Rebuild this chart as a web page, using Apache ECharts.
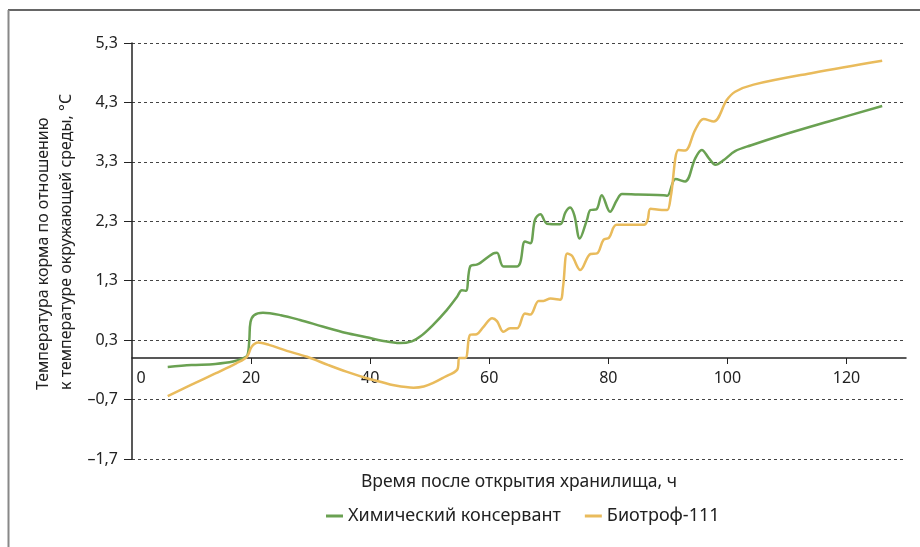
<!DOCTYPE html>
<html>
<head>
<meta charset="utf-8">
<script src="https://cdn.jsdelivr.net/npm/echarts@6/dist/echarts.min.js"></script>
<style>
  html, body { margin: 0; padding: 0; background: #fff; }
  #chart { width: 920px; height: 547px; }
</style>
</head>
<body>
<div id="chart"></div>
<script>
const xLabels = [0, 20, 40, 60, 80, 100, 120]
const yTicks = [-1.7, -0.7, 0.3, 1.3, 2.3, 3.3, 4.3, 5.3]
const seriesNames = ['Химический консервант', 'Биотроф-111']

// [часы, °C]
const chemical = [
  [6, -0.15], [10, -0.12], [14, -0.1], [17, -0.06], [18.8, 0], [19.4, 0.05], [19.7, 0.3],
  [19.9, 0.6], [20.5, 0.72], [22, 0.76], [25, 0.72], [28.2, 0.64], [32, 0.53], [36, 0.42],
  [39.4, 0.35], [42, 0.29], [45, 0.25], [47, 0.28], [48.4, 0.36], [50.5, 0.55], [52.9, 0.81],
  [54.6, 1.03], [55.4, 1.14], [56.1, 1.13], [56.8, 1.54], [57.9, 1.57], [58.5, 1.6],
  [60.7, 1.76], [61.3, 1.77], [62.4, 1.54], [64.6, 1.54], [65.2, 1.6], [66, 1.96],
  [66.9, 1.93], [67.7, 2.33], [68.6, 2.42], [69.7, 2.26], [71.9, 2.25], [72.8, 2.45],
  [73.6, 2.53], [74.3, 2.4], [75.2, 2.01], [76.4, 2.32], [77, 2.49], [78, 2.5], [78.9, 2.74],
  [80.3, 2.46], [81.4, 2.65], [82.3, 2.76], [85, 2.75], [89.3, 2.74], [89.9, 2.73],
  [91.3, 3.01], [92.9, 2.97], [94.6, 3.36], [95.7, 3.5], [96.9, 3.36], [98, 3.25],
  [99.4, 3.33], [101.3, 3.48], [104, 3.58], [108.9, 3.74], [117, 3.98], [126, 4.24]
]
const biotrof = [
  [6, -0.64], [10, -0.45], [14, -0.26], [17.5, -0.09], [19.3, 0.02], [20.1, 0.19],
  [21.2, 0.26], [23, 0.22], [26, 0.12], [29.4, 0.02], [33, -0.12], [36, -0.23], [39.4, -0.34],
  [41.7, -0.4], [44, -0.46], [47.3, -0.5], [49, -0.48], [50.6, -0.42], [52.5, -0.32],
  [54.6, -0.2], [55, 0], [56, 0], [56.8, 0.39], [57.9, 0.4], [59, 0.52], [60.5, 0.67],
  [61.3, 0.62], [62.4, 0.44], [63.5, 0.5], [64.7, 0.5], [66, 0.75], [66.9, 0.73], [68.3, 0.96],
  [69.1, 0.96], [70.3, 1.0], [71.9, 0.98], [72.4, 1.2], [73.1, 1.76], [73.9, 1.72],
  [75.3, 1.48], [77, 1.75], [78.1, 1.76], [79.2, 1.99], [80.1, 2.02], [81.4, 2.24], [86, 2.24],
  [86.6, 2.32], [87.1, 2.51], [89, 2.49], [89.9, 2.49], [90.5, 2.72], [91.8, 3.5], [92.9, 3.49],
  [94.6, 3.84], [96, 4.02], [97.7, 3.98], [99.9, 4.34], [101.3, 4.48], [104.4, 4.6],
  [114.5, 4.8], [126, 5.0]
]

const font = '"Noto Sans", sans-serif'
const textColor = '#222'

const chart = echarts.init(document.getElementById('chart'))

// ось X стоит на нуле: grid 416px на 7 градусов, ноль на 1.7 выше низа
const xAxisOffset = -Math.round(416 * 1.7 / 7)

chart.setOption({
  animation: false,
  textStyle: { fontFamily: font },
  grid: { left: 132, right: 14, top: 43, bottom: 88 },
  legend: {
    data: seriesNames,
    left: 321,
    top: 502,
    icon: 'rect',
    itemWidth: 17,
    itemHeight: 3,
    itemGap: 24,
    textStyle: { fontSize: 18, color: textColor, fontFamily: font }
  },
  graphic: [
    { type: 'line', shape: { x1: 8, y1: 10, x2: 920, y2: 10 }, style: { stroke: '#333', lineWidth: 1.5 } },
    { type: 'line', shape: { x1: 8.5, y1: 10, x2: 8.5, y2: 547 }, style: { stroke: '#888', lineWidth: 2 } },
    {
      type: 'text', x: 519, y: 482,
      style: { text: 'Время после открытия хранилища, ч', fill: textColor, font: '17.5px ' + font, textAlign: 'center', textVerticalAlign: 'middle' }
    },
    {
      type: 'text', x: 43, y: 390, rotation: Math.PI / 2,
      style: { text: 'Температура корма по отношению', fill: textColor, font: '16px ' + font, textAlign: 'left', textVerticalAlign: 'middle' }
    },
    {
      type: 'text', x: 66, y: 390, rotation: Math.PI / 2,
      style: { text: 'к температуре окружающей среды, °С', fill: textColor, font: '16px ' + font, textAlign: 'left', textVerticalAlign: 'middle' }
    }
  ],
  xAxis: {
    type: 'value',
    min: 0,
    max: 130,
    offset: xAxisOffset,
    axisLine: { onZero: false, lineStyle: { color: '#222', width: 1.5 } },
    axisTick: { customValues: xLabels.slice(1), length: 6, lineStyle: { color: '#222' } },
    axisLabel: {
      customValues: xLabels,
      margin: 12,
      fontSize: 16,
      color: textColor,
      formatter: v => v === 0 ? '{z|0}' : String(v),
      rich: { z: { padding: [0, 0, 0, 18], fontSize: 16, color: textColor } }
    },
    splitLine: { show: false }
  },
  yAxis: {
    type: 'value',
    min: -1.7,
    max: 5.3,
    axisLine: { show: true, lineStyle: { color: '#222', width: 1.5 } },
    axisTick: { show: true, customValues: yTicks, length: 8, lineStyle: { color: '#222' } },
    axisLabel: {
      customValues: yTicks,
      margin: 14,
      fontSize: 16,
      color: textColor,
      formatter: v => v.toFixed(1).replace('.', ',').replace('-', '–')
    },
    splitLine: { show: true, lineStyle: { color: '#444', type: [3, 3], width: 1 } }
  },
  series: [
    {
      name: seriesNames[0],
      type: 'line',
      data: chemical,
      smooth: 0.35,
      showSymbol: false,
      lineStyle: { color: '#6aa152', width: 2.5 },
      itemStyle: { color: '#6aa152' }
    },
    {
      name: seriesNames[1],
      type: 'line',
      data: biotrof,
      smooth: 0.35,
      showSymbol: false,
      lineStyle: { color: '#e9bb5c', width: 2.5 },
      itemStyle: { color: '#e9bb5c' }
    }
  ]
})
</script>
</body>
</html>
